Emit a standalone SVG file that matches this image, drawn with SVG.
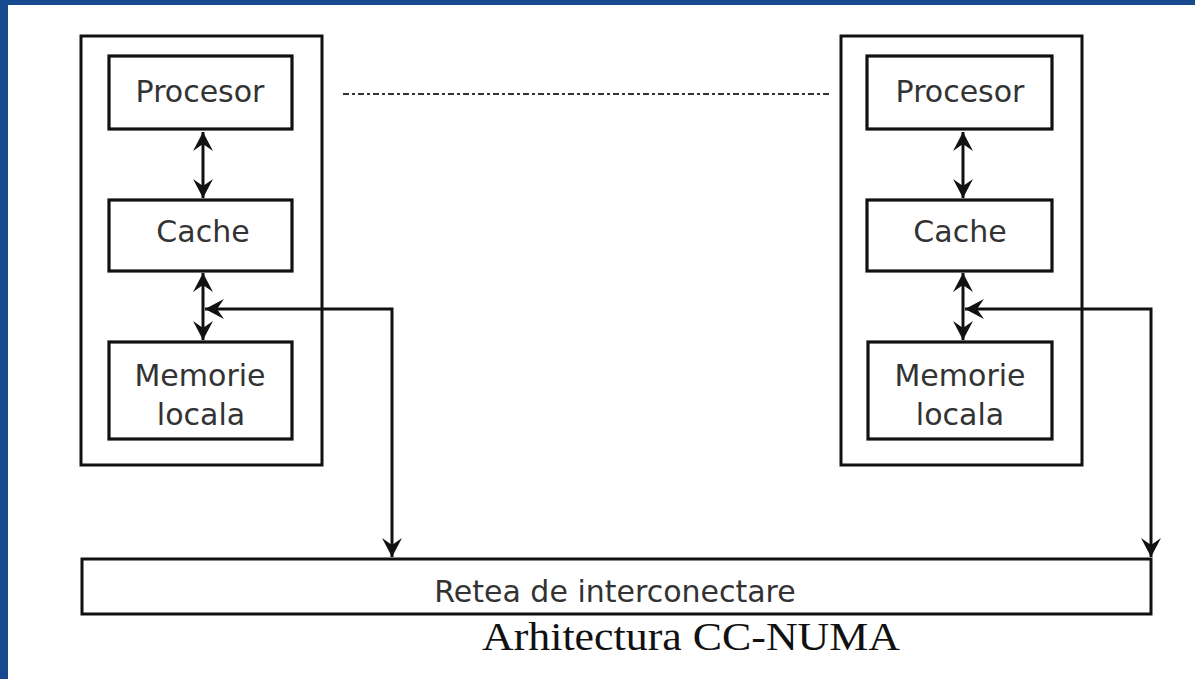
<svg xmlns="http://www.w3.org/2000/svg" width="1195" height="679" viewBox="0 0 1195 679">
  <style>
    .frame { fill: #ffffff; stroke: #111111; stroke-width: 3; }
    .box { fill: #ffffff; stroke: #111111; stroke-width: 3.2; }
    .label { font-family: "DejaVu Sans", Verdana, sans-serif; font-size: 30px; fill: #333333; text-anchor: middle; }
    .title { font-family: "Liberation Serif", "Times New Roman", serif; font-size: 41px; fill: #111111; text-anchor: middle; }
    .link { fill: none; stroke: #111111; stroke-width: 3; }
    .dots { fill: none; stroke: #333333; stroke-width: 2; stroke-dasharray: 6 3 3 3; }
  </style>
  <defs>
    <!-- stealth arrowhead, tip at the end of the line -->
    <marker id="head" viewBox="-20 -11 22 22" refX="0" refY="0" markerWidth="22" markerHeight="22" markerUnits="userSpaceOnUse" orient="auto-start-reverse">
      <path d="M0,0 L-19,-10 L-12,0 L-19,10 Z" fill="#111111"/>
    </marker>
  </defs>

  <!-- slide background -->
  <rect x="0" y="0" width="1195" height="679" fill="#ffffff"/>
  <rect x="0" y="0" width="1195" height="5" fill="#17498e"/>
  <rect x="0" y="0" width="8" height="679" fill="#17498e"/>

  <!-- left node -->
  <g id="node-left">
    <rect class="frame" x="81" y="36" width="241" height="429"/>
    <g id="left-procesor">
      <rect class="box" x="109" y="56" width="183" height="73"/>
      <text class="label" x="200" y="102">Procesor</text>
    </g>
    <g id="left-cache">
      <rect class="box" x="109" y="200" width="183" height="71"/>
      <text class="label" x="203" y="242">Cache</text>
    </g>
    <g id="left-memorie">
      <rect class="box" x="109" y="342" width="183" height="97"/>
      <text class="label" x="200" y="386">Memorie</text>
      <text class="label" x="201" y="425">locala</text>
    </g>
  </g>

  <!-- right node -->
  <g id="node-right">
    <rect class="frame" x="841" y="36" width="241" height="429"/>
    <g id="right-procesor">
      <rect class="box" x="867" y="56" width="185" height="73"/>
      <text class="label" x="960" y="102">Procesor</text>
    </g>
    <g id="right-cache">
      <rect class="box" x="867" y="200" width="185" height="71"/>
      <text class="label" x="960" y="242">Cache</text>
    </g>
    <g id="right-memorie">
      <rect class="box" x="868" y="342" width="184" height="97"/>
      <text class="label" x="960" y="386">Memorie</text>
      <text class="label" x="960" y="425">locala</text>
    </g>
  </g>

  <!-- interconnection network -->
  <g id="network">
    <rect class="frame" x="82" y="559" width="1069" height="55"/>
    <text class="label" x="615" y="602">Retea de interconectare</text>
  </g>

  <!-- connectors -->
  <g id="connectors">
    <line class="link" x1="203" y1="132" x2="203" y2="198" marker-start="url(#head)" marker-end="url(#head)"/>
    <line class="link" x1="203" y1="273" x2="203" y2="340" marker-start="url(#head)" marker-end="url(#head)"/>
    <polyline class="link" points="392,557 392,309 205,309" marker-start="url(#head)" marker-end="url(#head)"/>

    <line class="link" x1="963" y1="132" x2="963" y2="198" marker-start="url(#head)" marker-end="url(#head)"/>
    <line class="link" x1="963" y1="273" x2="963" y2="340" marker-start="url(#head)" marker-end="url(#head)"/>
    <polyline class="link" points="1151,557 1151,309 965,309" marker-start="url(#head)" marker-end="url(#head)"/>

    <line class="dots" x1="343" y1="94" x2="830" y2="94"/>
  </g>

  <text class="title" x="691" y="650" textLength="418" lengthAdjust="spacingAndGlyphs">Arhitectura CC-NUMA</text>
</svg>
